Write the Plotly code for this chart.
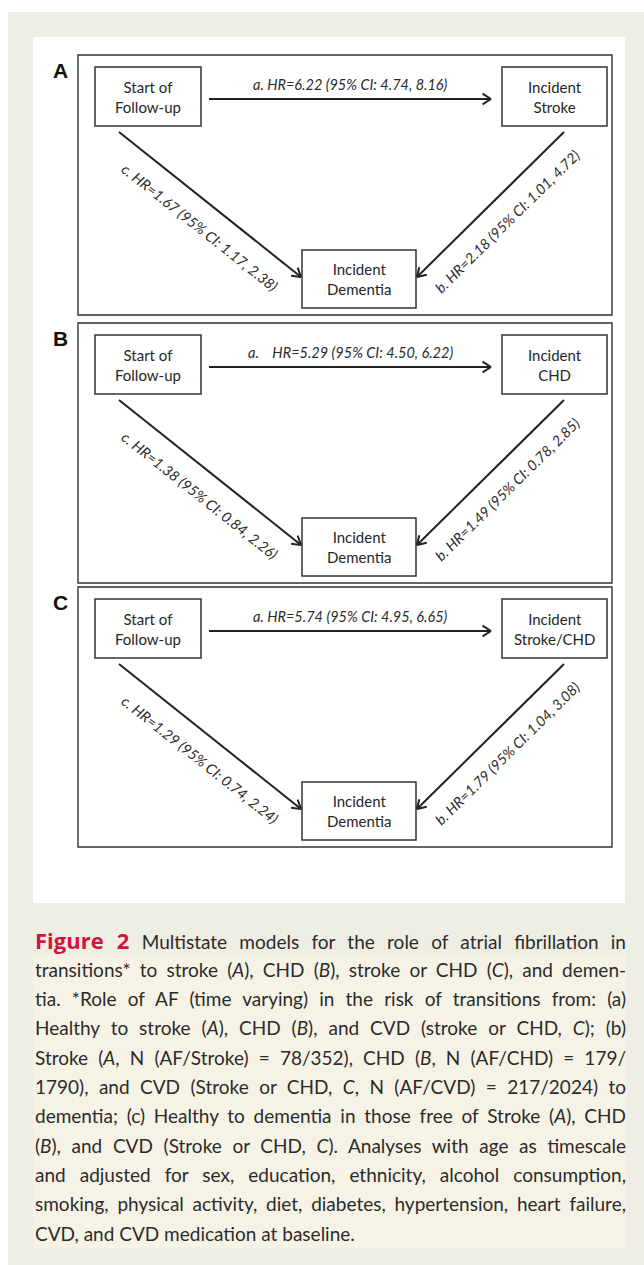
import math
import plotly.graph_objects as go

# ---------------- data ----------------
panels = ["A", "B", "C"]
start_node = "Start of<br>Follow-up"
end_node = "Incident<br>Dementia"
outcome_nodes = ["Incident<br>Stroke", "Incident<br>CHD", "Incident<br>Stroke/CHD"]
a_prefix = ["a. ", "a.    ", "a. "]
hr_a = [6.22, 5.29, 5.74]
ci_a_lo = [4.74, 4.50, 4.95]
ci_a_hi = [8.16, 6.22, 6.65]
hr_b = [2.18, 1.49, 1.79]
ci_b_lo = [1.01, 0.78, 1.04]
ci_b_hi = [4.72, 2.85, 3.08]
hr_c = [1.67, 1.38, 1.29]
ci_c_lo = [1.17, 0.84, 0.74]
ci_c_hi = [2.38, 2.26, 2.24]

caption_lines = [
    "<span style='color:#d2123f;font-size:22px;font-family:Open Sans'><b>Figure 2</b></span> Multistate models for the role of atrial fibrillation in",
    "transitions* to stroke (<i>A</i>), CHD (<i>B</i>), stroke or CHD (<i>C</i>), and demen-",
    "tia. *Role of AF (time varying) in the risk of transitions from: (a)",
    "Healthy to stroke (<i>A</i>), CHD (<i>B</i>), and CVD (stroke or CHD, <i>C</i>); (b)",
    "Stroke (<i>A</i>, N (AF/Stroke) = 78/352), CHD (<i>B</i>, N (AF/CHD) = 179/",
    "1790), and CVD (Stroke or CHD, <i>C</i>, N (AF/CVD) = 217/2024) to",
    "dementia; (c) Healthy to dementia in those free of Stroke (<i>A</i>), CHD",
    "(<i>B</i>), and CVD (Stroke or CHD, <i>C</i>). Analyses with age as timescale",
    "and adjusted for sex, education, ethnicity, alcohol consumption,",
    "smoking, physical activity, diet, diabetes, hypertension, heart failure,",
    "CVD, and CVD medication at baseline.",
]

# ---------------- layout helpers ----------------
W, H = 644, 1265
INK = "#222222"
BOX = "#333333"
shapes = []
annos = []

def rect(x0, y0, x1, y1, fill=None, line=None, lw=0):
    shapes.append(dict(type="rect", xref="x", yref="y", x0=x0, y0=y0, x1=x1, y1=y1,
                       fillcolor=fill if fill else "rgba(0,0,0,0)",
                       line=dict(color=line if line else "rgba(0,0,0,0)", width=lw),
                       layer="below"))

def seg(x0, y0, x1, y1, w=2, c=INK):
    shapes.append(dict(type="line", xref="x", yref="y", x0=x0, y0=y0, x1=x1, y1=y1,
                       line=dict(color=c, width=w)))

def arrow(x0, y0, x1, y1, head=10, half=32):
    seg(x0, y0, x1, y1)
    ang = math.atan2(y1 - y0, x1 - x0)
    for s in (-1, 1):
        a = ang + math.pi + s * math.radians(half)
        seg(x1, y1, x1 + head * math.cos(a), y1 + head * math.sin(a))

def text(x, y, t, size, color="#222", family="Lato", angle=0, xanchor="center", align="center"):
    annos.append(dict(x=x, y=y, xref="x", yref="y", text=t, showarrow=False,
                      font=dict(size=size, color=color, family=family),
                      textangle=angle, xanchor=xanchor, yanchor="middle", align=align))

# backgrounds
rect(8, 12, W, H, fill="#efeee4")
rect(33, 37, 625, 903, fill="#ffffff")
rect(33, 955, 626, 1248, fill="#f6f3e6")

panel_top = [55, 323, 587]
for i, p in enumerate(panels):
    t = panel_top[i]
    rect(78, t, 612, t + 260, line=BOX, lw=1.4)
    text(60, t + 15, "<b>" + p + "</b>", 21, color="#111", family="Liberation Sans")
    # nodes
    rect(95, t + 12, 201, t + 71, line=BOX, lw=1.5)
    text(148, t + 41.5, start_node, 15, color="#262626")
    rect(502, t + 12, 607, t + 71, line=BOX, lw=1.5)
    text(554.5, t + 41.5, outcome_nodes[i], 15, color="#262626")
    rect(302, t + 195, 416, t + 253, line=BOX, lw=1.5)
    text(359, t + 224, end_node, 15, color="#262626")
    # arrows
    arrow(209, t + 44, 491, t + 44)
    arrow(119, t + 77, 301, t + 222)
    arrow(564, t + 77, 417, t + 222)
    # labels
    la = "<i>%sHR=%.2f (95%% CI: %.2f, %.2f)</i>" % (a_prefix[i].replace(" ", "&nbsp;"), hr_a[i], ci_a_lo[i], ci_a_hi[i])
    text(350, t + 29, la, 14.5, color="#2b2b2b")
    lc = "<i>c. HR=%.2f (95%% CI: %.2f, %.2f)</i>" % (hr_c[i], ci_c_lo[i], ci_c_hi[i])
    text(200, t + 172, lc, 14.5, color="#2b2b2b", angle=38.5)
    lb = "<i>b. HR=%.2f (95%% CI: %.2f, %.2f)</i>" % (hr_b[i], ci_b_lo[i], ci_b_hi[i])
    text(507, t + 166, lb, 14.5, color="#2b2b2b", angle=-44.6)

# caption
for k, line in enumerate(caption_lines):
    text(33, 940 + k * 29.3, line, 19, color="#2b2b2b", xanchor="left", align="left")

fig = go.Figure()
fig.add_trace(go.Scatter(x=[0, W], y=[0, H], mode="markers", marker=dict(opacity=0),
                         hoverinfo="skip", showlegend=False))
fig.update_layout(
    width=W, height=H, margin=dict(l=0, r=0, t=0, b=0),
    paper_bgcolor="#ffffff", plot_bgcolor="#ffffff",
    xaxis=dict(range=[0, W], visible=False, fixedrange=True),
    yaxis=dict(range=[H, 0], visible=False, fixedrange=True),
    shapes=shapes, annotations=annos, showlegend=False,
)

# remove page margin; justify caption lines (all but the last) like the original
NCAP = len(caption_lines)
post = """
document.body.style.margin = '0';
document.body.style.overflow = 'hidden';
var gd = document.getElementById('{plot_id}');
function justify(){
  var texts = gd.querySelectorAll('g.annotation text.annotation-text');
  var n = texts.length;
  for (var k = n - %d; k < n - 1; k++) {
    var t = texts[k];
    t.setAttribute('word-spacing', 0);
    var w = t.getBBox().width;
    var s = (t.textContent.match(/ /g) || []).length;
    if (s > 0) { t.setAttribute('word-spacing', ((591 - w) / s).toFixed(2)); }
  }
}
justify();
if (document.fonts && document.fonts.ready) { document.fonts.ready.then(justify); }
""" % NCAP
fig.write_html("out.html", post_script=post, config={"displayModeBar": False})
